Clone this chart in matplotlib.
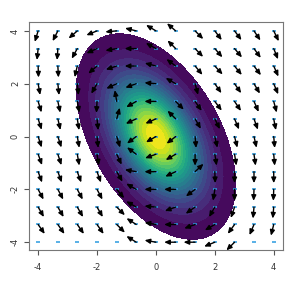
import numpy as np
import matplotlib
matplotlib.use("Agg")
import matplotlib.pyplot as plt

# grid of arrow start points
x_grid = [-4, -3.33, -2.67, -2, -1.33, -0.67, 0, 0.67, 1.33, 2, 2.67, 3.33, 4]
y_grid = [4, 3.33, 2.67, 2, 1.33, 0.67, 0, -0.67, -1.33, -2, -2.67, -3.33, -4]

# arrow direction in degrees (0 = right, 90 = up), one row per y_grid value
angles = [
    [-107, -117, -139, -158, -175, 166, 149, 139, -45, -53, -53, -56, -64],
    [-96, -94, -119, -156, -170, 180, 151, 135, -46, -49, -50, -54, -68],
    [-88, -87, -103, -139, -162, 180, 165, 143, -50, -47, -51, -53, -66],
    [-80, -84, -84, -120, -155, -160, 175, 150, -75, -55, -55, -59, -67],
    [-73, -78, -80, -93, 100, -150, 180, -45, -55, -53, -56, -66, -75],
    [-72, -77, -81, -84, 75, -155, -156, 135, -60, -64, -67, -70, -79],
    [-72, -72, -80, -84, -73, -143, -150, -142, -85, -77, -76, -77, -85],
    [-70, -72, -80, -81, -65, 143, -160, -150, -90, -81, -81, -82, -85],
    [-70, -70, -70, -70, -60, 170, 180, -155, 43, -88, -90, -90, -90],
    [-62, -62, -62, -62, -50, 150, 180, 180, -143, -99, -90, -92, -92],
    [-60, -60, -60, -60, -45, 150, 175, -160, -145, -120, -109, -95, -95],
    [-55, -55, -55, -55, -45, 147, 170, 180, -160, -150, -126, -113, -104],
    [-55, -55, -55, -55, -55, 148, 170, 180, 180, -158, -135, -114, -108],
]

# density blob (gaussian)
center = (0.0, 0.0)
sd_x, sd_y, rho = 1.0, 1.44, -0.46
cutoff = 0.026
n_levels = 20

W, H = 299, 296
fig = plt.figure(figsize=(W / 100, H / 100), dpi=100)
ax = fig.add_axes([0.097, 0.155, 0.849, 0.771])
xlim = (-4.31, 4.31)
ylim = (-4.30, 4.34)

gx = np.linspace(xlim[0], xlim[1], 500)
gy = np.linspace(ylim[0], ylim[1], 500)
X, Y = np.meshgrid(gx, gy)
u = (X - center[0]) / sd_x
v = (Y - center[1]) / sd_y
Q = (u ** 2 - 2 * rho * u * v + v ** 2) / (1 - rho ** 2)
Z = np.exp(-Q / 2)
levels = np.linspace(cutoff, 1.0001, n_levels + 1)
ax.contourf(X, Y, Z, levels=levels, cmap="viridis", zorder=1)

# pixels per data unit, to keep arrows a fixed screen length
ppu_x = W * 0.849 / (xlim[1] - xlim[0])
ppu_y = H * 0.771 / (ylim[1] - ylim[0])
arrow_px = 11.5

for i, y0 in enumerate(y_grid):
    for j, x0 in enumerate(x_grid):
        a = np.radians(angles[i][j])
        dx = arrow_px * np.cos(a) / ppu_x
        dy = arrow_px * np.sin(a) / ppu_y
        ax.annotate("", xy=(x0 + dx, y0 + dy), xytext=(x0, y0),
                    arrowprops=dict(arrowstyle="-|>,head_length=0.45,head_width=0.2",
                                    mutation_scale=7, lw=1.0, color="black",
                                    shrinkA=0, shrinkB=0), zorder=3)

gxx, gyy = np.meshgrid(x_grid, y_grid)
ax.plot(gxx.ravel(), gyy.ravel(), linestyle="none", marker="_", markersize=2.8,
        markeredgewidth=1.1, color="#2b9be0", zorder=2)

ax.set_xlim(xlim)
ax.set_ylim(ylim)
ticks = [-4, -2, 0, 2, 4]
ax.set_xticks(ticks)
ax.set_yticks(ticks)
ax.set_xticklabels([str(t) for t in ticks])
ax.set_yticklabels([str(t) for t in ticks], rotation=90, va="center")
ax.tick_params(length=3.5, width=0.8, color="#555555", labelsize=6, labelcolor="#333333")
ax.tick_params(axis="x", pad=6)
ax.tick_params(axis="y", pad=3)
for s in ax.spines.values():
    s.set_color("#777777")
    s.set_linewidth(0.8)

fig.savefig("out.png", dpi=100)
